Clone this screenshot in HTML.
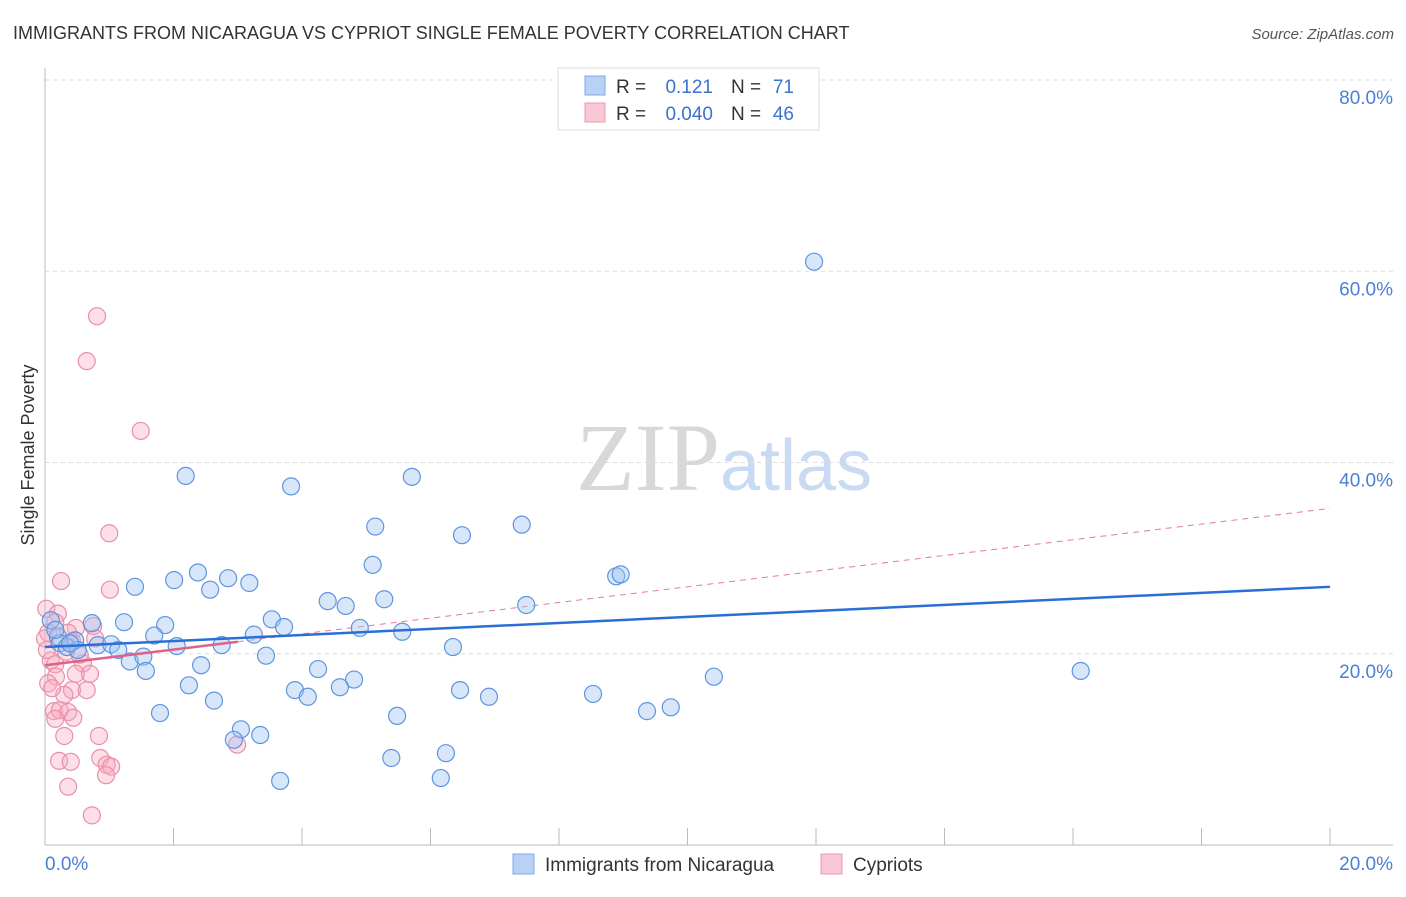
<!DOCTYPE html>
<html><head><meta charset="utf-8"><style>
body{margin:0;background:#fff;font-family:"Liberation Sans",sans-serif;}
svg text{font-family:"Liberation Sans",sans-serif;}
</style></head><body>
<svg id="chart" width="1406" height="892" viewBox="0 0 1406 892">
<text x="13" y="39" font-size="18" fill="#333">IMMIGRANTS FROM NICARAGUA VS CYPRIOT SINGLE FEMALE POVERTY CORRELATION CHART</text>
<text x="1394" y="39" font-size="15" fill="#555" text-anchor="end" font-style="italic">Source: ZipAtlas.com</text>
<text x="720" y="490" font-size="96" text-anchor="end" fill="#d8d8d8" font-family="Liberation Serif" style="font-family:'Liberation Serif',serif">ZIP</text>
<text x="720" y="490" font-size="72" fill="#c9daf3">atlas</text>
<text transform="translate(34,455) rotate(-90)" font-size="18" fill="#333" text-anchor="middle">Single Female Poverty</text>
<g id="grid"></g><g id="axes"></g><g id="trend"></g><g id="pts"></g>
<g>
<rect x="558" y="68" width="261" height="62" fill="#fff" stroke="#ddd"/>
<rect x="585" y="76" width="20" height="19" fill="#b9d1f5" stroke="#7fa9e6"/>
<rect x="585" y="103" width="20" height="19" fill="#f9c6d4" stroke="#eb9bb4"/>
<text x="616" y="93" font-size="19" fill="#333">R =</text><text x="713" y="93" font-size="19" fill="#3a72d1" text-anchor="end">0.121</text>
<text x="731" y="93" font-size="19" fill="#333">N =</text><text x="794" y="93" font-size="19" fill="#3a72d1" text-anchor="end">71</text>
<text x="616" y="120" font-size="19" fill="#333">R =</text><text x="713" y="120" font-size="19" fill="#3a72d1" text-anchor="end">0.040</text>
<text x="731" y="120" font-size="19" fill="#333">N =</text><text x="794" y="120" font-size="19" fill="#3a72d1" text-anchor="end">46</text>
</g>
<g>
<rect x="513" y="854" width="21" height="20" fill="#b9d1f5" stroke="#7fa9e6"/>
<text x="545" y="871" font-size="19" fill="#333">Immigrants from Nicaragua</text>
<rect x="821" y="854" width="21" height="20" fill="#f9c6d4" stroke="#eb9bb4"/>
<text x="853" y="871" font-size="19" fill="#333">Cypriots</text>
</g>
</svg>
<script>
const blueX=[11.97,2.19,3.83,5.71,5.14,6.49,7.42,5.10,8.89,8.96,2.38,2.01,2.85,2.57,3.18,1.40,5.28,4.40,4.68,7.49,3.53,3.72,1.87,1.23,0.73,1.70,4.90,5.56,3.25,2.75,2.05,6.35,0.09,0.20,0.47,0.82,1.03,1.14,0.23,0.34,0.51,1.32,1.53,1.57,3.44,2.43,4.25,16.12,10.41,4.81,2.24,3.89,4.09,4.59,6.46,6.91,8.53,2.63,1.79,5.48,9.37,9.74,3.05,2.94,3.35,6.24,5.39,3.66,6.16,0.16,0.39];
const blueY=[61.0,38.6,37.5,38.5,33.3,32.4,33.5,29.3,28.1,28.3,28.5,27.7,27.9,26.7,27.4,27.0,25.7,25.5,25.0,25.1,23.6,22.8,23.0,23.3,23.2,21.9,22.7,22.3,22.0,20.9,20.8,20.7,23.5,21.8,21.4,20.9,21.0,20.4,21.1,20.7,20.4,19.2,19.7,18.2,19.8,18.8,18.4,18.2,17.6,17.3,16.7,16.2,15.5,16.5,16.2,15.5,15.8,15.1,13.8,13.5,14.0,14.4,12.1,11.0,11.5,9.6,9.1,6.7,7.0,22.5,21.1];
const pinkX=[0.81,0.65,1.49,1.00,0.25,1.01,0.02,0.20,0.16,0.48,0.75,0.05,0.36,0.42,0.78,0.33,0.59,0.09,0.16,0.48,0.70,0.17,0.05,0.42,0.65,0.30,0.14,0.23,0.36,0.44,0.16,0.30,0.84,0.22,0.40,0.86,0.96,1.03,0.95,2.99,0.36,0.73,0.0,0.03,0.11,0.54];
const pinkY=[55.3,50.6,43.3,32.6,27.6,26.7,24.7,24.2,23.3,22.7,22.9,22.2,22.2,21.3,21.6,20.2,19.0,19.3,18.9,17.9,17.9,17.6,16.9,16.2,16.2,15.7,14.0,14.1,13.9,13.3,13.2,11.4,11.4,8.8,8.7,9.1,8.4,8.2,7.3,10.5,6.1,3.1,21.6,20.4,16.4,19.9];
const yTicks=[20,40,60,80];
const yTickLabels=["20.0%","40.0%","60.0%","80.0%"];
const xTicks=[0,2,4,6,8,10,12,14,16,18,20];
const blueTrend=[20.7,27.0];
const pinkTrend=[18.8,35.2];
const pinkSolidEnd=3.0;
const NS="http://www.w3.org/2000/svg";
const sx=v=>45+v*64.25, sy=v=>845-v*9.5625;
function mk(tag,attrs,parent){const e=document.createElementNS(NS,tag);for(const k in attrs)e.setAttribute(k,attrs[k]);document.getElementById(parent).appendChild(e);return e;}
yTicks.forEach((t,i)=>{
 const l=mk('line',{x1:45,x2:1393,y1:sy(t),y2:sy(t),stroke:'#ddd','stroke-dasharray':'4,4'},'grid');
 
 
 const tx=mk('text',{x:1393,y:sy(t)+24,'font-size':19,fill:'#4a7fd6','text-anchor':'end'},'grid');
 tx.textContent=yTickLabels[i];
 
 
});
const ax=mk('line',{x1:45,x2:45,y1:68,y2:845,stroke:'#bbb'},'axes');


const bx=mk('line',{x1:45,x2:1393,y1:845,y2:845,stroke:'#bbb'},'axes');


xTicks.forEach(t=>{const l=mk('line',{x1:sx(t),x2:sx(t),y1:828,y2:845,stroke:'#bbb'},'axes');
 
 });
const xl0=mk('text',{x:45,y:870,'font-size':19,fill:'#4a7fd6'},'axes');xl0.textContent="0.0%";


const xl1=mk('text',{x:1393,y:870,'font-size':19,fill:'#4a7fd6','text-anchor':'end'},'axes');xl1.textContent="20.0%";


function pt(x,y,f,s){const c=mk('circle',{cx:sx(x),cy:sy(y),r:8.5,fill:f,stroke:s,'stroke-width':1.2},'pts');return c;}
pinkX.forEach((x,i)=>{const c=pt(x,pinkY[i],'rgba(246,170,192,0.38)','#e98fac');
 
 });
blueX.forEach((x,i)=>{const c=pt(x,blueY[i],'rgba(160,196,240,0.42)','#5e95e0');
 
 });
const pv=x=>pinkTrend[0]+(pinkTrend[1]-pinkTrend[0])*x/20;
const pd=mk('line',{x1:sx(pinkSolidEnd),y1:sy(pv(pinkSolidEnd)),x2:sx(20),y2:sy(pinkTrend[1]),stroke:'#e27a9c','stroke-width':1,'stroke-dasharray':'6,5'},'trend');


const ps=mk('line',{x1:sx(0),y1:sy(pinkTrend[0]),x2:sx(pinkSolidEnd),y2:sy(pv(pinkSolidEnd)),stroke:'#e0608a','stroke-width':2.5},'pts');


const bt=mk('line',{x1:sx(0),y1:sy(blueTrend[0]),x2:sx(20),y2:sy(blueTrend[1]),stroke:'#2b6fd6','stroke-width':2.5},'pts');


</script>
</body></html>
